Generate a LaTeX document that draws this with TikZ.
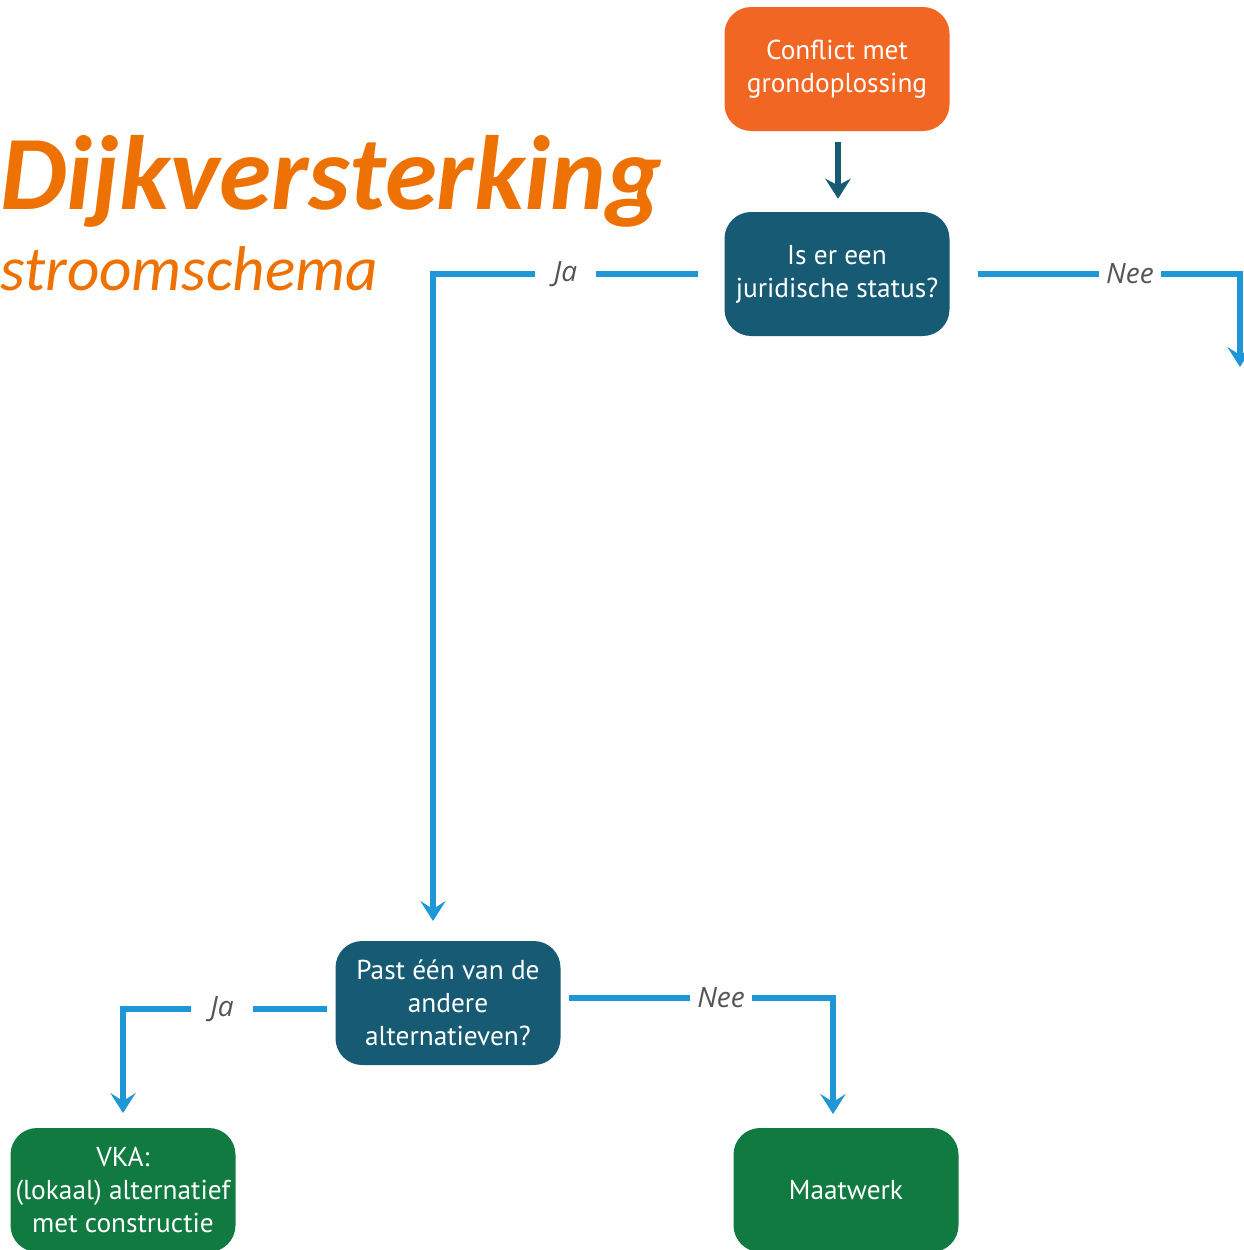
\documentclass[tikz,border=0pt]{standalone}
\usepackage{fontspec}
\setmainfont{PT Sans}
\newfontfamily\titlefont{Carlito}
\newfontfamily\handfont{Open Sans}
\usetikzlibrary{arrows.meta,calc}
\definecolor{orbox}{HTML}{F26624}
\definecolor{tealbox}{HTML}{165B73}
\definecolor{greenbox}{HTML}{117A40}
\definecolor{blueline}{HTML}{1F97D7}
\definecolor{titleor}{HTML}{ED7203}
\definecolor{lblgray}{HTML}{555555}
\tikzset{
  box/.style={rounded corners=20pt, minimum width=168.75pt, minimum height=93pt,
    text=white, align=center, inner sep=0pt, font=\fontsize{20.5}{24.8}\selectfont},
  orangebox/.style={box, fill=orbox},
  questionbox/.style={box, fill=tealbox},
  resultbox/.style={box, fill=greenbox},
  bl/.style={draw=blueline, line width=3.8pt,
    -{Stealth[length=15pt, width=19pt, inset=6pt]}},
  dk/.style={draw=tealbox, line width=4.5pt,
    -{Stealth[length=15pt, width=19pt, inset=5pt]}},
  lbl/.style={fill=white, text=lblgray, minimum width=46pt, minimum height=31pt,
    inner sep=0pt, font=\handfont\itshape\fontsize{21}{21}\selectfont}
}
\begin{document}
\begin{tikzpicture}[x=0.75pt,y=-0.75pt]
\useasboundingbox (0,0) rectangle (1243,1250);

\node[anchor=base west, text=titleor, inner sep=0pt,
  font=\titlefont\bfseries\itshape\fontsize{79.2}{79.2}\selectfont] (title) at (0,209) {Dijkversterking};
\node[anchor=base west, text=titleor, inner sep=0pt,
  font=\titlefont\itshape\fontsize{47.4}{47.4}\selectfont] (sub) at (0,290) {stroomschema};

\node[orangebox] (start) at (837,69) {Conflict met\\grondoplossing};
\node[questionbox] (q1) at (837,274) {Is er een\\juridische status?};
\node[questionbox] (q2) at (448,1003) {Past één van de\\andere\\alternatieven?};
\node[resultbox] (vka) at (123,1190) {VKA:\\(lokaal) alternatief\\met constructie};
\node[resultbox] (maat) at (846,1190) {Maatwerk};

\coordinate (jaS) at (698,274);
\coordinate (jaC) at (433,274);
\coordinate (jaE) at (433,921);
\coordinate (neeS) at (978,274);
\coordinate (neeC) at (1240,274);
\coordinate (neeE) at (1240,367);
\coordinate (ja2S) at (327,1009);
\coordinate (ja2C) at (123,1009);
\coordinate (ja2E) at (123,1113);
\coordinate (nee2S) at (569,998);
\coordinate (nee2C) at (833,998);
\coordinate (nee2E) at (833,1114);

\draw[dk] ($(start.south)+(1,11)$) -- ($(q1.north)+(1,-13)$);

\draw[bl] (jaS) -- node[lbl] (l1) {Ja} (jaC) -- (jaE);
\draw[bl] (neeS) -- node[lbl, pos=0.58] (l2) {Nee} (neeC) -- (neeE);
\draw[bl] (ja2S) -- node[lbl, pos=0.515] (l3) {Ja} (ja2C) -- (ja2E);
\draw[bl] (nee2S) -- node[lbl, pos=0.576] (l4) {Nee} (nee2C) -- (nee2E);
\end{tikzpicture}
\end{document}
